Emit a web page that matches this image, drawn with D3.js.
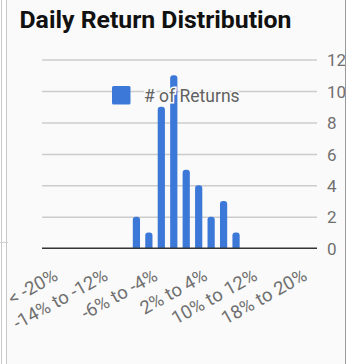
<!DOCTYPE html>
<html>
<head>
<meta charset="utf-8">
<script src="https://cdn.jsdelivr.net/npm/d3@7"></script>
<style>
  html, body { margin: 0; padding: 0; background: #ffffff; }
  svg { display: block; font-family: Roboto, "Noto Sans", sans-serif; }
</style>
</head>
<body>
<svg id="chart" width="359" height="364"></svg>
<script>
// Histogram bins (2% wide) and the number of daily returns in each
const categories = [
  "< -20%", "-20% to -18%", "-18% to -16%", "-16% to -14%", "-14% to -12%",
  "-12% to -10%", "-10% to -8%", "-8% to -6%", "-6% to -4%", "-4% to -2%",
  "-2% to 0%", "0% to 2%", "2% to 4%", "4% to 6%", "6% to 8%", "8% to 10%",
  "10% to 12%", "12% to 14%", "14% to 16%", "16% to 18%", "18% to 20%", "> 20%"
];
const returnCounts = [0, 0, 0, 0, 0, 0, 0, 2, 1, 9, 11, 5, 4, 2, 3, 1, 0, 0, 0, 0, 0, 0];
const xTickLabels = ["< -20%", "-14% to -12%", "-6% to -4%", "2% to 4%", "10% to 12%", "18% to 20%"];
const yTicks = [0, 2, 4, 6, 8, 10, 12];
const seriesName = "# of Returns";
const chartTitle = "Daily Return Distribution";

const svg = d3.select("#chart");
const barColor = "#3c78d8";

// Card frame
svg.append("rect").attr("x", 7).attr("y", 0).attr("width", 339).attr("height", 364).attr("fill", "#fafafa");
svg.append("line").attr("x1", 1.5).attr("x2", 1.5).attr("y1", 0).attr("y2", 364).attr("stroke", "#c8c8c8");
svg.append("line").attr("x1", 6.5).attr("x2", 6.5).attr("y1", 0).attr("y2", 364).attr("stroke", "#c8c8c8");
svg.append("line").attr("x1", 0).attr("x2", 8).attr("y1", 242.5).attr("y2", 242.5).attr("stroke", "#d0d0d0");

const defs = svg.append("defs");
defs.append("clipPath").attr("id", "card").append("rect")
  .attr("x", 7).attr("y", 0).attr("width", 338).attr("height", 364);

const g = svg.append("g").attr("clip-path", "url(#card)");

// Title
g.append("text").attr("x", 19.5).attr("y", 27.5)
  .attr("font-size", 24.8).attr("font-weight", "bold").attr("fill", "#111")
  .text(chartTitle);

// Scales
const x = d3.scaleBand().domain(categories).range([43, 317]).paddingInner(0.42).paddingOuter(0.21);
const y = d3.scaleLinear().domain([0, 12]).range([248.3, 59.5]);

// Gridlines
const grid = g.append("g").attr("transform", "translate(42,0)")
  .call(d3.axisRight(y).tickValues(yTicks.filter(t => t !== 0)).tickSize(275).tickFormat(""));
grid.select(".domain").remove();
grid.selectAll("line").attr("stroke", "#cccccc").attr("stroke-width", 1.5);

// Y axis labels on the right
const yAxis = g.append("g").attr("transform", "translate(327,0)")
  .call(d3.axisRight(y).tickValues(yTicks).tickSize(0).tickPadding(0));
yAxis.select(".domain").remove();
yAxis.selectAll("text").attr("font-size", 17).attr("fill", "#707070")
  .attr("font-family", "Roboto, sans-serif").attr("text-anchor", "start").attr("dy", "0.36em");

// Bars with rounded tops
const r = 3;
function barPath(d, i) {
  const x0 = x(categories[i]), w = x.bandwidth();
  const yb = y(0), yt = y(d);
  if (d <= 0) return "";
  const rr = Math.min(r, (yb - yt));
  return `M${x0},${yb}V${yt + rr}Q${x0},${yt} ${x0 + rr},${yt}H${x0 + w - rr}Q${x0 + w},${yt} ${x0 + w},${yt + rr}V${yb}Z`;
}
g.append("g").selectAll("path").data(returnCounts).join("path")
  .attr("d", barPath).attr("fill", barColor);

// Baseline
g.append("line").attr("x1", 42).attr("x2", 317).attr("y1", y(0)).attr("y2", y(0))
  .attr("stroke", "#333").attr("stroke-width", 1.5);

// X axis labels (every fourth bin), rotated
const xAxis = g.append("g").attr("transform", `translate(0,${y(0)})`)
  .call(d3.axisBottom(x).tickValues(xTickLabels).tickSize(0).tickPadding(0));
xAxis.select(".domain").remove();
xAxis.selectAll("text")
  .attr("font-size", 18.5).attr("fill", "#707070").attr("font-family", "Roboto, sans-serif")
  .attr("text-anchor", "end").attr("dy", null).attr("y", null)
  .attr("transform", "translate(10,31) rotate(-29)");

// Legend
const legend = g.append("g");
legend.append("rect").attr("x", 112).attr("y", 86).attr("width", 18.5).attr("height", 18.5)
  .attr("rx", 1.5).attr("fill", barColor);
legend.append("text").attr("x", 144).attr("y", 101.5)
  .attr("font-size", 17.5).attr("fill", "#616161")
  .attr("stroke", "#fafafa").attr("stroke-width", 3).attr("paint-order", "stroke")
  .text(seriesName);

// Right card border
svg.append("line").attr("x1", 345.5).attr("x2", 345.5).attr("y1", 0).attr("y2", 364).attr("stroke", "#9a9a9a");
</script>
</body>
</html>
